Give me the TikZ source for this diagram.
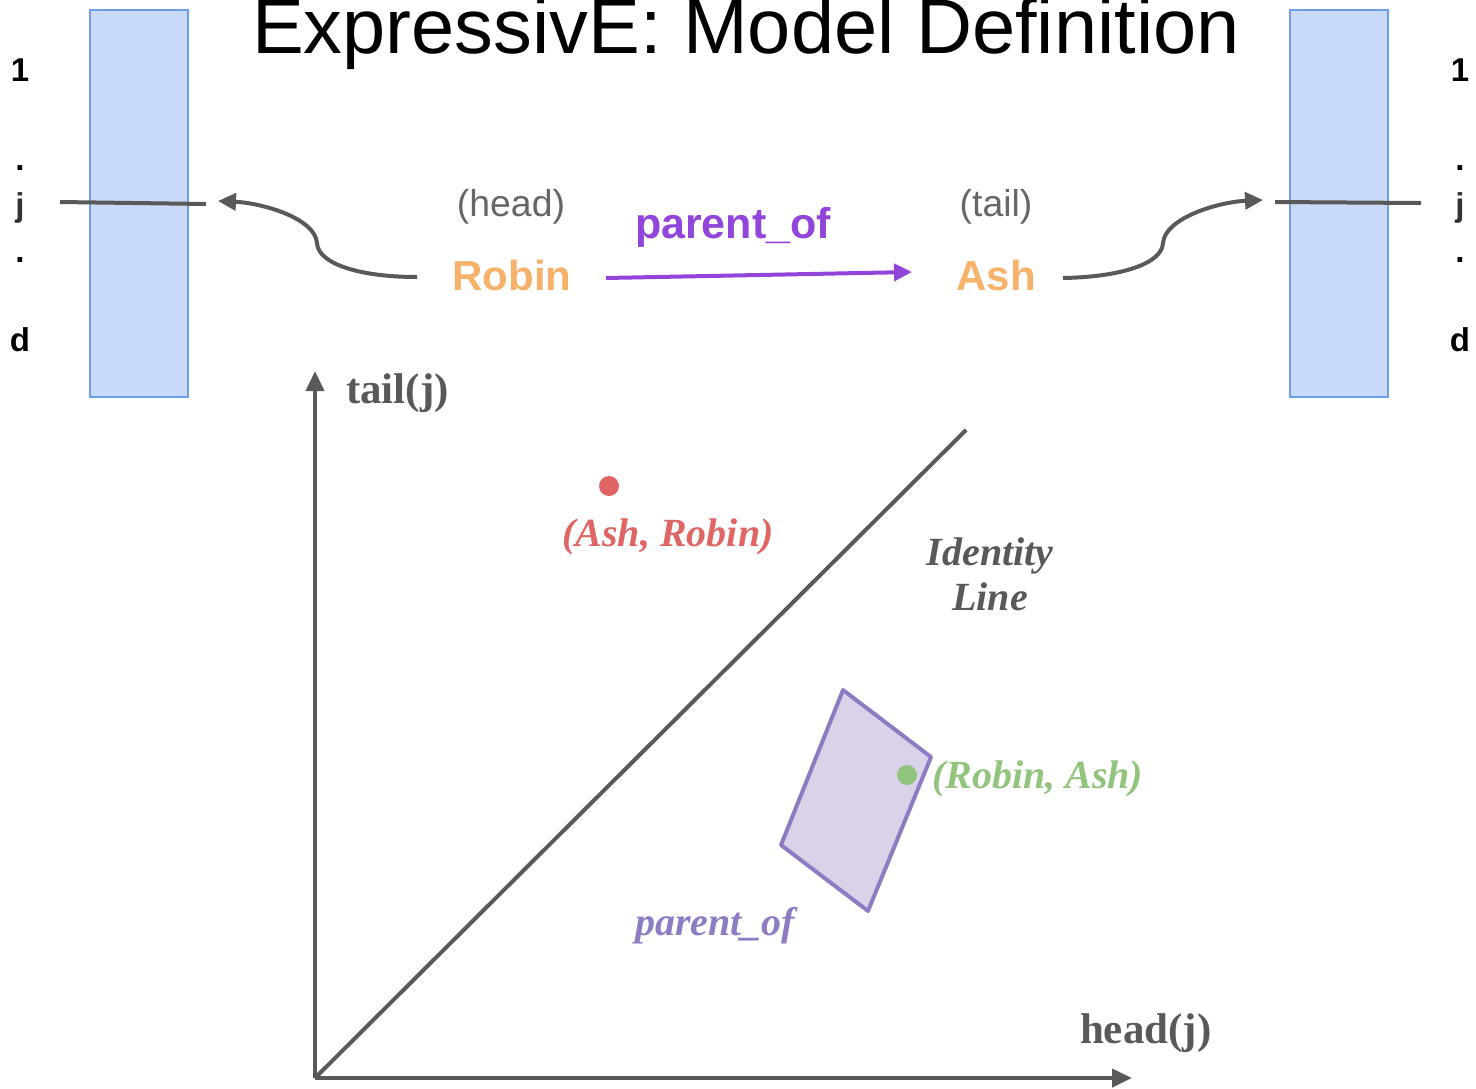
\documentclass[tikz,border=0pt]{standalone}
\usepackage{fontspec}
\usepackage{graphicx}
\setmainfont{Liberation Serif}
\newfontfamily\arialf{Liberation Sans}
\usetikzlibrary{arrows.meta}
\definecolor{gline}{HTML}{595959}
\definecolor{gtext}{HTML}{666666}
\definecolor{embfill}{HTML}{C9DAF8}
\definecolor{embdraw}{HTML}{6D9EEB}
\definecolor{entorange}{HTML}{F6B26B}
\definecolor{relpurple}{HTML}{9245DB}
\definecolor{boxfill}{HTML}{D9D2E9}
\definecolor{boxdraw}{HTML}{8E7CC3}
\definecolor{redpt}{HTML}{E06666}
\definecolor{greenpt}{HTML}{93C47D}
\tikzset{
  emb/.style={draw=embdraw, fill=embfill, line width=1pt, minimum width=49pt, minimum height=193.5pt},
  idx/.style={anchor=base, font=\arialf\bfseries\fontsize{16.5}{18}\selectfont},
  role/.style={anchor=base, text=gtext, font=\arialf\fontsize{18.7}{20}\selectfont},
  entity/.style={anchor=base, text=entorange, font=\arialf\bfseries\fontsize{21}{23}\selectfont},
  grayconn/.style={draw=gline, line width=2pt, -{Triangle[length=9pt,width=8.5pt]}},
  jline/.style={draw=gline, line width=2pt},
  axisline/.style={draw=gline, line width=2pt, -{Triangle[length=10pt,width=9pt]}},
  serifl/.style={anchor=base, font=\bfseries\itshape\fontsize{20}{22}\selectfont},
  axlab/.style={anchor=base west, text=gline, font=\bfseries\fontsize{21.5}{23}\selectfont},
}
\begin{document}
\begin{tikzpicture}[x=0.5pt,y=-0.5pt, every node/.style={inner sep=0pt, outer sep=0pt}]
\useasboundingbox (0,0) rectangle (1476,1088);

% title
\node[anchor=base] (title) at (746,53) {\arialf\fontsize{38.8}{40}\selectfont ExpressivE: Model Definition};

% embedding vectors
\node[emb] (embL) at (138.5,203.5) {};
\node[emb] (embR) at (1338.5,203.5) {};

% index labels
\node[idx] (l1) at (20,81) {1};
\node[idx] (ld1) at (20,170) {.};
\node[idx, text=black!80] (lj) at (20,216) {j};
\node[idx] (ld2) at (20,262) {.};
\node[idx] (ld) at (20,351) {d};
\node[idx] (r1) at (1460,81) {1};
\node[idx] (rd1) at (1460,170) {.};
\node[idx, text=black!80] (rj) at (1460,216) {j};
\node[idx] (rd2) at (1460,262) {.};
\node[idx] (rd) at (1460,351) {d};

% j lines
\coordinate (jLa) at (60,202);
\coordinate (jLb) at (206,204);
\coordinate (jRa) at (1275,202);
\coordinate (jRb) at (1421,203);
\draw[jline] (jLa) -- (jLb);
\draw[jline] (jRa) -- (jRb);

% entities and relation
\node[role] (head) at (511,216) {(head)};
\node[role] (tail) at (996,216) {(tail)};
\node[entity] (robin) at (512,290) {Robin};
\node[entity] (ash) at (996,290) {Ash};
\node[anchor=base, text=relpurple, font=\arialf\bfseries\fontsize{21.5}{23}\selectfont] (rel) at (733,238) {parent\_of};

\coordinate (robinOut) at (417,277);
\coordinate (ashOut) at (1063,278);
\coordinate (tipL) at (218,201);
\coordinate (tipR) at (1263,200);
\coordinate (relStart) at (606,278);
\coordinate (relEnd) at (912,272);

\draw[draw=relpurple, line width=2pt, -{Triangle[length=9pt,width=8.5pt]}] (relStart) -- (relEnd);
\draw[grayconn] (robinOut) .. controls (360,277) and (318,264) .. (317,243) .. controls (315,218) and (262,203) .. (tipL);
\draw[grayconn] (ashOut) .. controls (1120,277) and (1162,264) .. (1163,243) .. controls (1165,218) and (1218,202) .. (tipR);

% plot
\coordinate (O) at (315,1078);
\coordinate (ytop) at (315,371);
\coordinate (xend) at (1132,1078);
\coordinate (idend) at (966,430);
\draw[axisline] (O) -- (ytop);
\draw[axisline] (O) -- (xend);
\draw[jline] (O) -- (idend);

\node[axlab] (tailj) at (346,403) {tail(j)};
\node[axlab] (headj) at (1080,1043) {head(j)};

\node[serifl, text=gline] (ident) at (990,565) {Identity};
\node[serifl, text=gline] (identline) at (990,610) {Line};

% ash, robin point
\fill[redpt] (609,486) circle (5pt);
\node[serifl, text=redpt] (ashrobin) at (668,546) {(Ash, Robin)};

% parent_of box
\draw[draw=boxdraw, fill=boxfill, line width=2pt, line join=round] (843,690) -- (931,757) -- (868,911) -- (781,845) -- cycle;
\fill[greenpt] (907,775) circle (5pt);
\node[serifl, text=greenpt, anchor=base west] (robinash) at (932,788) {(Robin, Ash)};
\node[serifl, text=boxdraw, anchor=base west] (relbox) at (635,935) {parent\_of};
\end{tikzpicture}
\end{document}
